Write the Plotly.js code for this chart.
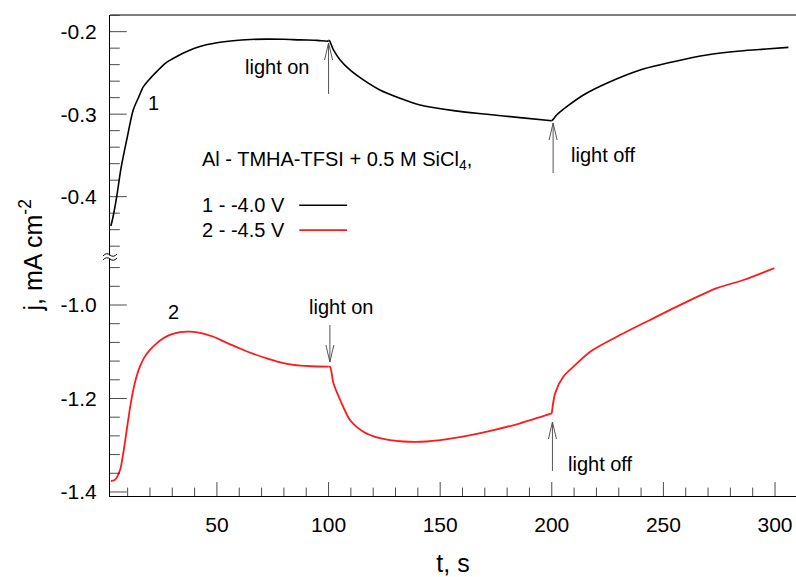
<!DOCTYPE html>
<html>
<head>
<meta charset="utf-8">
<script src="https://cdn.plot.ly/plotly-3.0.1.min.js"></script>
<style>html,body{margin:0;padding:0;background:#fff}#chart{width:796px;height:577px}</style>
</head>
<body>
<div id="chart"></div>
<script>
// ---- data ----
// curve 1: -4.0 V (upper part of the broken axis)
const t1 = [2.5, 3.5, 5.1, 7, 9.6, 12.5, 15, 17, 20, 23, 27, 32, 37, 42.4, 50, 57.3, 65, 72.3, 80, 87.2, 95, 99.5, 100, 100.3, 102.2, 105.2, 109.6, 115.6, 123, 132, 141, 156, 171, 185.8, 200, 200.7, 202.2, 206.7, 214.2, 224.6, 239.6, 254.5, 269.4, 284.4, 296, 306];
const j1 = [-0.4355, -0.424, -0.400, -0.366, -0.331, -0.295, -0.279, -0.267, -0.257, -0.2485, -0.238, -0.230, -0.2235, -0.218, -0.2135, -0.211, -0.2095, -0.209, -0.2092, -0.210, -0.2105, -0.2115, -0.2108, -0.2105, -0.2222, -0.2343, -0.2464, -0.2585, -0.2707, -0.2807, -0.2888, -0.2957, -0.3001, -0.3042, -0.3079, -0.306, -0.301, -0.2909, -0.2767, -0.2625, -0.2464, -0.2364, -0.2282, -0.2234, -0.221, -0.219];
// curve 2: -4.5 V (lower part of the broken axis)
const t2 = [2.5, 4.3, 6.6, 8, 9.6, 11, 12.5, 14, 15.5, 17.5, 20, 23, 26, 29.5, 33.5, 38, 43, 48.4, 54, 60.3, 66, 72.3, 78, 84.2, 92, 100, 100.7, 102.2, 105.2, 109.6, 115.6, 123, 133.5, 144, 156, 171, 185.8, 200, 201.5, 205.2, 209.7, 217.2, 229.1, 244, 259, 273.9, 285.8, 299.7];
const j2 = [-1.3765, -1.374, -1.353, -1.318, -1.267, -1.222, -1.182, -1.153, -1.132, -1.112, -1.096, -1.082, -1.071, -1.063, -1.058, -1.057, -1.060, -1.068, -1.080, -1.093, -1.104, -1.114, -1.122, -1.128, -1.131, -1.132, -1.132, -1.1675, -1.203, -1.246, -1.271, -1.285, -1.292, -1.292, -1.285, -1.271, -1.253, -1.232, -1.189, -1.153, -1.132, -1.100, -1.068, -1.032, -0.9965, -0.964, -0.9465, -0.921];

// tick labels
const xTickVals = [50, 100, 150, 200, 250, 300];
const xTickText = ['50', '100', '150', '200', '250', '300'];
const yTopTickVals = [-0.4, -0.3, -0.2];
const yTopTickText = ['-0.4', '-0.3', '-0.2'];
const yBotTickVals = [-1.4, -1.2, -1.0];
const yBotTickText = ['-1.4', '-1.2', '-1.0'];

// labels
const seriesNames = ['1 - -4.0 V', '2 - -4.5 V'];
const curveLabels = ['1', '2'];
const legendTitle = 'Al - TMHA-TFSI + 0.5 M SiCl<sub>4</sub>,';
const lightTimes = [100, 200];

// ---- styling / layout ----
const FONT = 'Liberation Sans, Arial, sans-serif';
const black = '#000000', red = '#ff1a1a', arrowCol = '#555555';
const split = 0.4969;
const xRange = [2.1, 309.4], yBotRange = [-1.4086, -0.8973], yTopRange = [-0.4731, -0.1798];

// split each curve at the light on/off instants so the kinks stay sharp
function segments(t, j, yaxis, color, width, name) {
  const bounds = [-Infinity].concat(lightTimes, [Infinity]);
  const out = [];
  for (let s = 0; s < bounds.length - 1; s++) {
    const xs = [], ys = [];
    t.forEach((v, i) => { if (v >= bounds[s] && v <= bounds[s + 1]) { xs.push(v); ys.push(j[i]); } });
    out.push({x: xs, y: ys, xaxis: 'x', yaxis: yaxis, mode: 'lines', name: name,
      line: {color: color, width: width, shape: 'spline', smoothing: 0.8}, hoverinfo: 'skip'});
  }
  return out;
}
const traces = segments(t2, j2, 'y', red, 1.8, seriesNames[1]).concat(segments(t1, j1, 'y2', black, 1.6, seriesNames[0]));

// inward tick marks: line markers centred on the axis line, the outer half clipped away
const isMajor = (v, vals) => vals.some(m => Math.abs(m - v) < 1e-6);
function tickTrace(vals, majors, axisVal, yaxis, vertical, majorLen, minorLen) {
  const pos = vals, fixed = vals.map(() => axisVal);
  return {x: vertical ? pos : fixed, y: vertical ? fixed : pos, xaxis: 'x', yaxis: yaxis,
    mode: 'markers', cliponaxis: true, hoverinfo: 'skip', showlegend: false,
    marker: {symbol: vertical ? 'line-ns' : 'line-ew',
      size: vals.map(v => 2 * (isMajor(v, majors) ? majorLen : minorLen)),
      color: black, line: {color: black, width: 1}}};
}
const xTicks = [], yBotTicks = [], yTopTicks = [];
for (let k = 1; k * 10 <= xRange[1]; k++) xTicks.push(k * 10);
for (let k = Math.ceil(yBotRange[0] / 0.04 - 1e-6); k * 0.04 <= yBotRange[1]; k++) yBotTicks.push(+(k * 0.04).toFixed(4));
for (let k = Math.ceil(yTopRange[0] / 0.02 - 1e-6); k * 0.02 <= yTopRange[1]; k++) yTopTicks.push(+(k * 0.02).toFixed(4));
traces.push(tickTrace(xTicks, xTickVals, yBotRange[0], 'y', true, 10, 6));
traces.push(tickTrace(yBotTicks, yBotTickVals, xRange[0], 'y', false, 12, 7));
traces.push(tickTrace(yTopTicks, yTopTickVals, xRange[0], 'y2', false, 12, 7));

const arrows = [
  {x: 100, tip: -0.2137, tail: -0.2755, yref: 'y2'},
  {x: 200.6, tip: -0.3107, tail: -0.3713, yref: 'y2'},
  {x: 100.6, tip: -1.1219, tail: -1.0428, yref: 'y'},
  {x: 200.3, tip: -1.2503, tail: -1.3551, yref: 'y'}
];

const shapes = [
  // top frame line
  {type: 'line', xref: 'paper', yref: 'paper', x0: 0, x1: 1, y0: 1, y1: 1, line: {color: black, width: 1}},
  // axis break marks
  {type: 'rect', xref: 'paper', yref: 'paper', xsizemode: 'pixel', ysizemode: 'pixel',
   xanchor: 0, yanchor: split, x0: -2, x1: 2, y0: -1.5, y1: 1.5, fillcolor: 'white', line: {width: 0}},
  {type: 'path', xref: 'paper', yref: 'paper', xsizemode: 'pixel', ysizemode: 'pixel',
   xanchor: 0, yanchor: split, path: 'M-7,1 Q-3.5,5 0,2 Q3.5,-1 7,3', line: {color: black, width: 1}},
  {type: 'path', xref: 'paper', yref: 'paper', xsizemode: 'pixel', ysizemode: 'pixel',
   xanchor: 0, yanchor: split, path: 'M-7,-3 Q-3.5,1 0,-2 Q3.5,-5 7,-1', line: {color: black, width: 1}}
];
// light on/off arrows (thin line with open head)
arrows.forEach(a => {
  shapes.push({type: 'line', xref: 'x', yref: a.yref, x0: a.x, x1: a.x, y0: a.tail, y1: a.tip,
    line: {color: arrowCol, width: 1}});
  const up = a.tip > a.tail;
  shapes.push({type: 'path', xref: 'x', yref: a.yref, xsizemode: 'pixel', ysizemode: 'pixel',
    xanchor: a.x, yanchor: a.tip,
    path: up ? 'M-4,-17 L0,0 L4,-17' : 'M-4,17 L0,0 L4,17',
    line: {color: arrowCol, width: 1}});
});
// legend sample lines
shapes.push({type: 'line', xref: 'x', yref: 'y2', x0: 86.9, x1: 108.3, y0: -0.4103, y1: -0.4103, line: {color: black, width: 1.6}});
shapes.push({type: 'line', xref: 'x', yref: 'y2', x0: 86.9, x1: 108.3, y0: -0.4406, y1: -0.4406, line: {color: red, width: 1.8}});

const annFont = {family: FONT, size: 20, color: black};
const annotations = [
  {x: 21.8, y: -0.2864, xref: 'x', yref: 'y2', text: curveLabels[0], showarrow: false, font: annFont},
  {x: 30.4, y: -1.015, xref: 'x', yref: 'y', text: curveLabels[1], showarrow: false, font: annFont},
  {x: 77.2, y: -0.2428, xref: 'x', yref: 'y2', text: 'light on', showarrow: false, font: annFont},
  {x: 223, y: -0.3495, xref: 'x', yref: 'y2', text: 'light off', showarrow: false, font: annFont},
  {x: 106, y: -1.0043, xref: 'x', yref: 'y', text: 'light on', showarrow: false, font: annFont},
  {x: 221.6, y: -1.3401, xref: 'x', yref: 'y', text: 'light off', showarrow: false, font: annFont},
  {x: 42.4, y: -0.3567, xref: 'x', yref: 'y2', xanchor: 'left', text: legendTitle, showarrow: false, font: annFont},
  {x: 42.4, y: -0.4103, xref: 'x', yref: 'y2', xanchor: 'left', text: seriesNames[0], showarrow: false, font: annFont},
  {x: 42.4, y: -0.4406, xref: 'x', yref: 'y2', xanchor: 'left', text: seriesNames[1], showarrow: false, font: annFont},
  // y axis title spanning both parts of the broken axis
  {x: -0.1152, y: 0.5, xref: 'paper', yref: 'paper', xanchor: 'center', yanchor: 'middle', text: 'j, mA cm<sup>-2</sup>', textangle: -90,
   showarrow: false, font: {family: FONT, size: 25, color: black}}
];

const axCommon = {showline: true, linecolor: black, linewidth: 1, ticks: '', showgrid: false, zeroline: false,
  tickfont: {family: FONT, size: 21, color: black}};

const layout = {
  width: 796, height: 577,
  margin: {l: 110, r: 0, t: 15, b: 81},
  paper_bgcolor: 'white', plot_bgcolor: 'white',
  showlegend: false,
  font: {family: FONT, size: 20, color: black},
  xaxis: Object.assign({}, axCommon, {
    range: xRange, anchor: 'y',
    tickmode: 'array', tickvals: xTickVals, ticktext: xTickText, ticklabelstandoff: 10,
    title: {text: 't, s', font: {family: FONT, size: 25, color: black}, standoff: 29}
  }),
  yaxis: Object.assign({}, axCommon, {
    domain: [0, split], range: yBotRange, anchor: 'x',
    tickmode: 'array', tickvals: yBotTickVals, ticktext: yBotTickText, ticklabelstandoff: 8
  }),
  yaxis2: Object.assign({}, axCommon, {
    domain: [split, 1], range: yTopRange, anchor: 'x',
    tickmode: 'array', tickvals: yTopTickVals, ticktext: yTopTickText, ticklabelstandoff: 8
  }),
  shapes: shapes,
  annotations: annotations
};

Plotly.newPlot('chart', traces, layout, {staticPlot: true, displayModeBar: false});
</script>
</body>
</html>
